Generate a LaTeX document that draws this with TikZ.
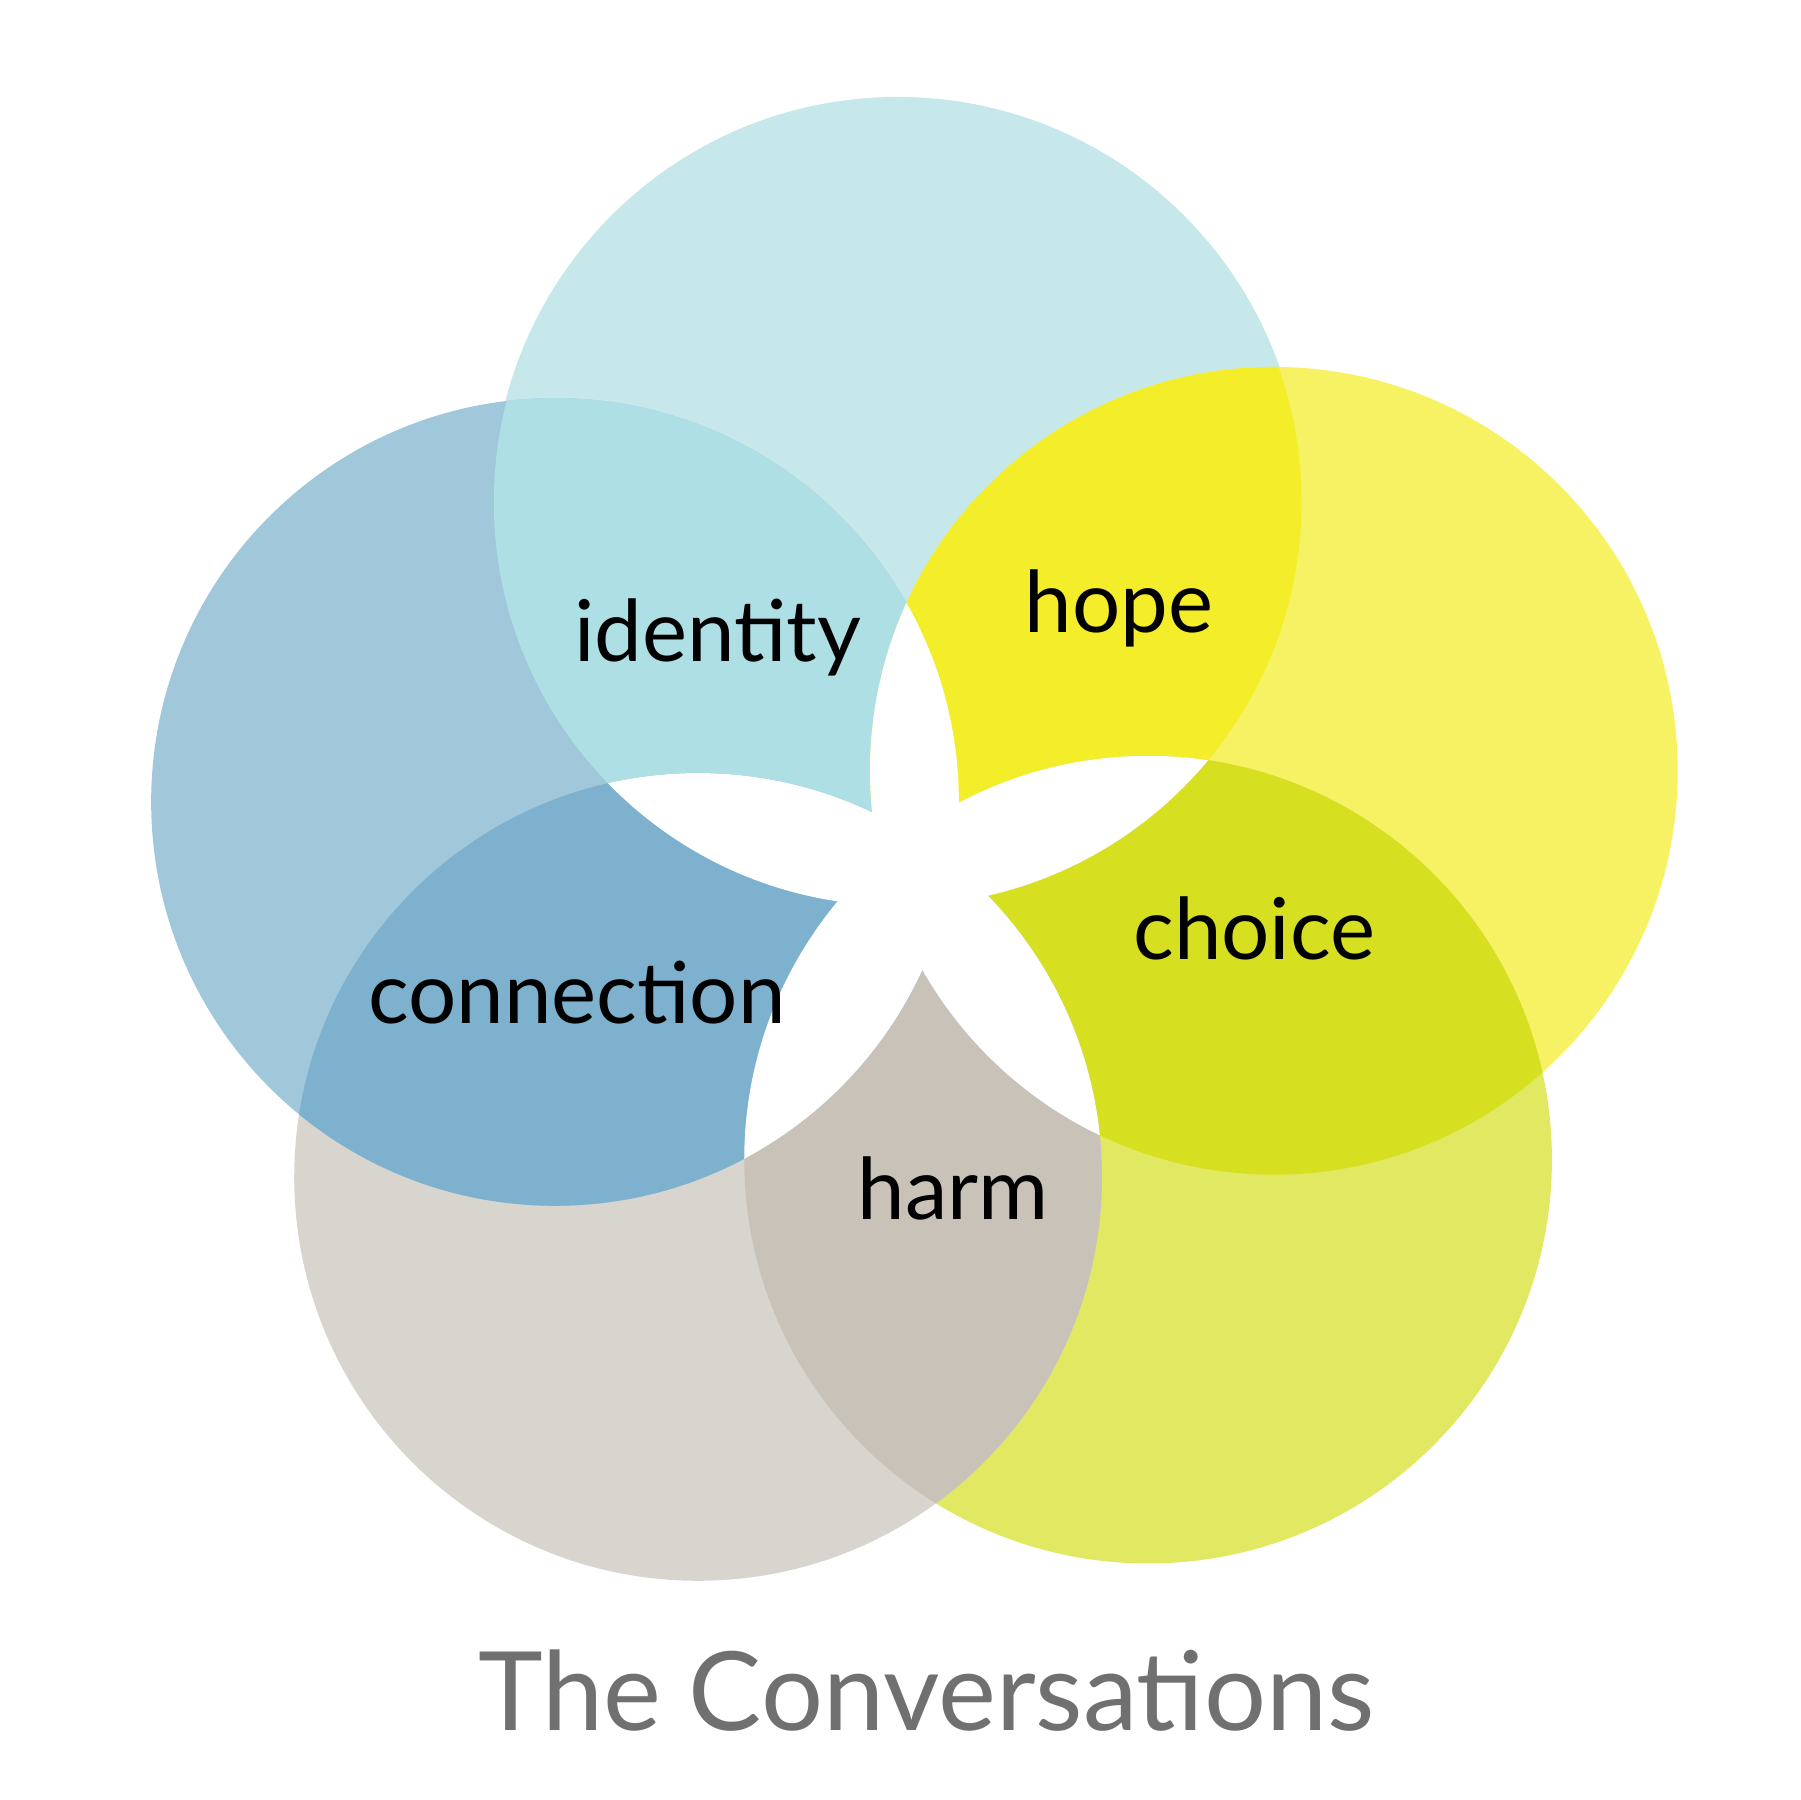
\documentclass[tikz,border=0pt]{standalone}
\usepackage{fontspec}
\setmainfont{Lato}
\definecolor{cyanL}{HTML}{C6E8EB}
\definecolor{cyanD}{HTML}{AEDFE4}
\definecolor{yelL}{HTML}{F7F263}
\definecolor{yelD}{HTML}{F4EE2A}
\definecolor{limeL}{HTML}{E1E862}
\definecolor{limeD}{HTML}{D6E020}
\definecolor{grayL}{HTML}{D8D4CE}
\definecolor{grayD}{HTML}{C9C2B8}
\definecolor{blueL}{HTML}{A1C7DB}
\definecolor{blueD}{HTML}{7EB1CE}
\definecolor{titlegray}{HTML}{707070}
\begin{document}
\begin{tikzpicture}[x=0.01cm, y=-0.01cm,
    word/.style={font=\fontsize{21}{24}\selectfont, text=black},
    title/.style={font=\fontsize{27}{30}\selectfont, text=titlegray}
]
    \useasboundingbox (0,0) rectangle (1560,1560);
    \coordinate (cT) at (778,435);
    \coordinate (cR) at (1104,668);
    \coordinate (cBR) at (995,1005);
    \coordinate (cBL) at (605,1020);
    \coordinate (cL) at (481,695);

    % single circles
    \fill[cyanL] (cT) circle (351);
    \fill[yelL] (cR) circle (350);
    \fill[limeL] (cBR) circle (350);
    \fill[grayL] (cBL) circle (350);
    \fill[blueL] (cL) circle (350);

    % pair overlaps
    \foreach \a/\b/\col in {cT/cL/cyanD, cT/cR/yelD, cR/cBR/limeD, cBR/cBL/grayD, cBL/cL/blueD}{
        \begin{scope}
            \clip (\a) circle (350);
            \fill[\col] (\b) circle (350);
        \end{scope}
    }

    % triple overlaps are white
    \foreach \a/\b/\c in {cT/cR/cBR, cT/cR/cBL, cT/cR/cL, cT/cBR/cBL, cT/cBR/cL,
                          cT/cBL/cL, cR/cBR/cBL, cR/cBR/cL, cR/cBL/cL, cBR/cBL/cL}{
        \begin{scope}
            \clip (\a) circle (350);
            \clip (\b) circle (350);
            \fill[white] (\c) circle (350);
        \end{scope}
    }

    \node[word] (identity) at (622,552) {identity};
    \node[word] (hope) at (970,527) {hope};
    \node[word] (choice) at (1087,805) {choice};
    \node[word] (connection) at (500,860) {connection};
    \node[word] (harm) at (826,1030) {harm};
    \node[title] (heading) at (803,1465) {The Conversations};
\end{tikzpicture}
\end{document}
